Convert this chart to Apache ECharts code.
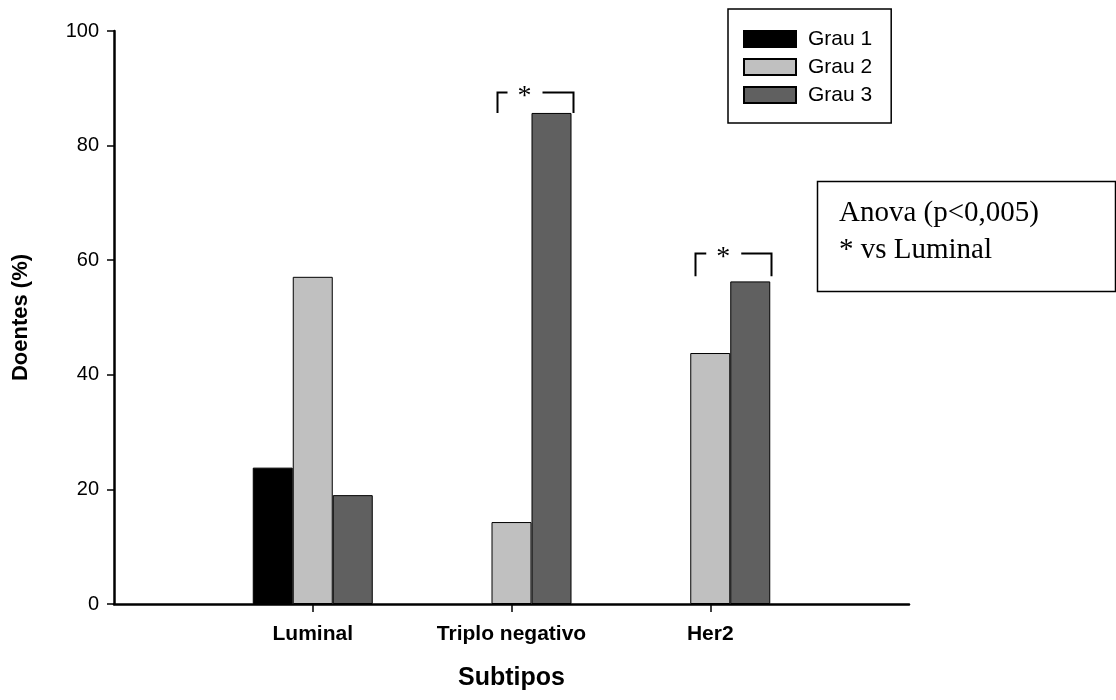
<!DOCTYPE html>
<html>
<head>
<meta charset="utf-8">
<script src="https://cdn.jsdelivr.net/npm/echarts@6/dist/echarts.min.js"></script>
<style>html,body{margin:0;padding:0;background:#fff}#c{width:1116px;height:700px}</style>
</head>
<body>
<div id="c"></div>
<script>
var categories = ['', 'Luminal', 'Triplo negativo', 'Her2', ' '];
var grau1 = [null, 23.8, 0, 0, null];
var grau2 = [null, 57.1, 14.3, 43.8, null];
var grau3 = [null, 19.0, 85.7, 56.3, null];
var seriesNames = ['Grau 1', 'Grau 2', 'Grau 3'];
var yTicks = [0, 20, 40, 60, 80, 100];
// significance brackets: [category, bracket top value, bracket foot value]
var brackets = [['Triplo negativo', 89.3, 85.7], ['Her2', 61.3, 57.2]];
var noteLines = ['Anova (p<0,005)', '* vs Luminal'];

var colors = ['#000000', '#c0c0c0', '#606060'];
var chart = echarts.init(document.getElementById('c'), null, {renderer: 'canvas'});
var font = 'Liberation Sans, Arial, sans-serif';
function mk(name, data, color) {
  return {
    name: name, type: 'bar',
    data: data.map(function (v) { return v === 0 ? '-' : v; }),
    barWidth: 40, barGap: '0%',
    itemStyle: {color: color, borderColor: '#000', borderWidth: 1},
    emphasis: {disabled: true}, animation: false
  };
}
chart.setOption({
  animation: false,
  grid: {left: 114, right: 207, top: 31, bottom: 96, containLabel: false},
  legend: {
    orient: 'vertical', left: 728, top: 9,
    data: seriesNames,
    itemWidth: 52, itemHeight: 16, itemGap: 6,
    padding: [19, 19, 17, 15],
    borderColor: '#000', borderWidth: 1.5,
    icon: 'rect',
    textStyle: {fontFamily: font, fontSize: 21, color: '#000', lineHeight: 22, padding: [0, 0, 0, 7]},
    selectedMode: false
  },
  xAxis: {
    type: 'category', data: categories, boundaryGap: false,
    name: 'Subtipos', nameLocation: 'middle', nameGap: 62,
    nameTextStyle: {fontFamily: font, fontSize: 25, fontWeight: 'bold', color: '#000'},
    axisLine: {lineStyle: {color: '#000', width: 2.5}},
    axisTick: {length: 8, lineStyle: {color: '#000', width: 1.5}, interval: function (i) { return i >= 1 && i <= 3; }},
    axisLabel: {fontFamily: font, fontSize: 21, fontWeight: 'bold', color: '#000', margin: 20, interval: 0},
    splitLine: {show: false}
  },
  yAxis: {
    type: 'value', min: 0, max: 100, interval: 20,
    name: 'Doentes (%)', nameLocation: 'middle', nameGap: 82,
    nameTextStyle: {fontFamily: font, fontSize: 22, fontWeight: 'bold', color: '#000'},
    axisLine: {show: true, lineStyle: {color: '#000', width: 2.5}},
    axisTick: {show: true, length: 7, lineStyle: {color: '#000', width: 1.5}},
    axisLabel: {fontFamily: font, fontSize: 20, color: '#000', margin: 15,
      formatter: function (v) { return yTicks.indexOf(v) >= 0 ? String(v) : ''; }},
    splitLine: {show: false}
  },
  series: [mk(seriesNames[0], grau1, colors[0]), mk(seriesNames[1], grau2, colors[1]), mk(seriesNames[2], grau3, colors[2])]
});

var g = [];
brackets.forEach(function (b) {
  var top = chart.convertToPixel({xAxisIndex: 0, yAxisIndex: 0}, [b[0], b[1]]);
  var foot = chart.convertToPixel({xAxisIndex: 0, yAxisIndex: 0}, [b[0], b[2]]);
  var T = top[0], yt = Math.round(top[1]) + 0.5, yb = foot[1];
  var L = Math.round(T - 15) + 0.5, R = Math.round(T + 61) + 0.5;
  g.push({type: 'polyline', shape: {points: [[L, yb], [L, yt], [T - 4, yt]]}, style: {stroke: '#000', lineWidth: 2, fill: null}});
  g.push({type: 'polyline', shape: {points: [[T + 31, yt], [R, yt], [R, yb]]}, style: {stroke: '#000', lineWidth: 2, fill: null}});
  g.push({type: 'text', x: T + 13, y: yt - 10, style: {text: '*', font: '28px "Liberation Serif", "Times New Roman", serif', fill: '#000', textAlign: 'center', textVerticalAlign: 'top'}});
});
g.push({type: 'rect', shape: {x: 817.5, y: 181.5, width: 298, height: 110}, style: {stroke: '#000', lineWidth: 1.5, fill: '#fff'}});
noteLines.forEach(function (t, i) {
  g.push({type: 'text', x: 839, y: 213 + i * 37, style: {text: t, font: '29px "Liberation Serif", "Times New Roman", serif', fill: '#000', textVerticalAlign: 'middle'}});
});
chart.setOption({graphic: g});
</script>
</body>
</html>
